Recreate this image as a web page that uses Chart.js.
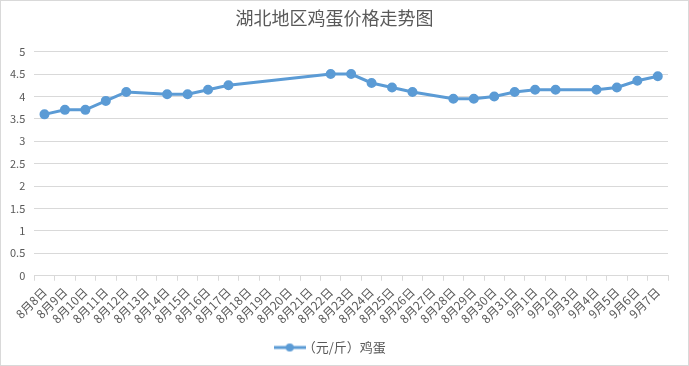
<!DOCTYPE html>
<html>
<head>
<meta charset="utf-8">
<script src="https://cdn.jsdelivr.net/npm/chart.js@4/dist/chart.umd.min.js"></script>
<style>
  body { margin: 0; background: #fff; }
  #wrap { width: 689px; height: 366px; box-sizing: border-box; border: 1px solid #d9d9d9; }
</style>
</head>
<body>
<div id="wrap"><canvas id="c" width="687" height="364"></canvas></div>
<script>
// dates on the x axis
const dates = ["8月8日","8月9日","8月10日","8月11日","8月12日","8月13日","8月14日","8月15日","8月16日","8月17日",
  "8月18日","8月19日","8月20日","8月21日","8月22日","8月23日","8月24日","8月25日","8月26日","8月27日",
  "8月28日","8月29日","8月30日","8月31日","9月1日","9月2日","9月3日","9月4日","9月5日","9月6日","9月7日"];
// egg price (yuan / jin), null = no quote that day
const eggPrice = [3.6,3.7,3.7,3.9,4.1,null,4.05,4.05,4.15,4.25,
  null,null,null,null,4.5,4.5,4.3,4.2,4.1,null,
  3.95,3.95,4.0,4.1,4.15,4.15,null,4.15,4.2,4.35,4.45];
const seriesName = "（元/斤）鸡蛋";
const yTicks = [0,0.5,1,1.5,2,2.5,3,3.5,4,4.5,5];

const blue = "#5b9bd5";
const grey = "#595959";
const font = "'Noto Sans CJK SC', 'Noto Sans', sans-serif";

// legend marker: line with a dot in the middle
const marker = document.createElement("canvas");
marker.width = 32; marker.height = 10;
let mctx = marker.getContext("2d");
mctx.strokeStyle = blue; mctx.lineWidth = 3;
mctx.beginPath(); mctx.moveTo(0, 5); mctx.lineTo(32, 5); mctx.stroke();
mctx.fillStyle = blue;
mctx.beginPath(); mctx.arc(16, 5, 4, 0, Math.PI * 2); mctx.fill();

new Chart(document.getElementById("c"), {
  type: "line",
  data: {
    labels: dates,
    datasets: [{
      label: seriesName,
      data: eggPrice,
      borderColor: blue,
      backgroundColor: blue,
      borderWidth: 3,
      pointRadius: 3.5,
      pointHoverRadius: 3.5,
      spanGaps: true,
      tension: 0
    }]
  },
  options: {
    responsive: false,
    animation: false,
    layout: { padding: { left: 0, right: 20, top: 2, bottom: 1 } },
    plugins: {
      title: {
        display: true,
        text: "湖北地区鸡蛋价格走势图",
        color: grey,
        font: { family: font, size: 18, weight: "normal" },
        padding: { top: 4, bottom: 23 }
      },
      legend: {
        position: "bottom",
        labels: {
          color: grey,
          font: { family: font, size: 13 },
          usePointStyle: true,
          padding: 11,
          generateLabels: function(chart) {
            return [{ text: seriesName, pointStyle: marker, fontColor: grey, datasetIndex: 0 }];
          }
        }
      },
      tooltip: { enabled: false }
    },
    scales: {
      x: {
        offset: true,
        grid: { display: true, drawOnChartArea: false, drawTicks: true, tickLength: 5, color: "#d9d9d9", offset: true },
        border: { color: "#d9d9d9" },
        ticks: { color: grey, font: { family: font, size: 12 }, maxRotation: 45, minRotation: 45, autoSkip: false, padding: 4 }
      },
      y: {
        min: 0, max: 5,
        afterBuildTicks: function(axis) { axis.ticks = yTicks.map(v => ({ value: v })); },
        grid: { color: "#d9d9d9", drawTicks: false },
        border: { display: false },
        ticks: { color: grey, font: { family: font, size: 11 }, padding: 9, callback: v => String(v) }
      }
    }
  }
});
</script>
</body>
</html>
